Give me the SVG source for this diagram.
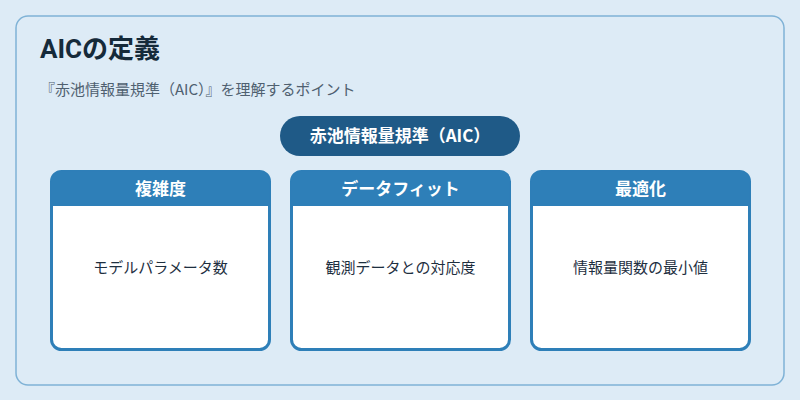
<svg xmlns="http://www.w3.org/2000/svg" width="800" height="400" viewBox="0 0 800 400">
<style>
text{font-family:"Noto Sans CJK JP","Noto Sans",sans-serif}
.card{fill:#fff;stroke:#2e7fb8;stroke-width:3}
.hd{fill:#2e7fb8}
.ht{fill:#fff;font-size:17px;font-weight:bold;text-anchor:middle}
.bt{fill:#1e2f3f;font-size:15px;text-anchor:middle}
</style>
<rect width="800" height="400" fill="#ddebf6"/>
<rect x="16" y="16" width="768" height="369" rx="12" fill="#ddebf6" stroke="#7fb2d6" stroke-width="1.5"/>
<text x="40" y="58" font-size="26" font-weight="bold" fill="#152a3a" style="font-family:Roboto,'Noto Sans CJK JP',sans-serif">AICの定義</text>
<text x="40" y="95" font-size="15" fill="#4f6070">『赤池情報量規準（AIC）』を理解するポイント</text>
<g id="pill">
<rect x="280" y="116" width="240" height="40" rx="20" fill="#1f5a87"/>
<text x="400" y="142" class="ht">赤池情報量規準（AIC）</text>
</g>
<g id="card1">
<rect x="51.5" y="171.5" width="218" height="178" rx="10" class="card"/>
<path d="M51.5 206 V181.5 a10 10 0 0 1 10 -10 H259.5 a10 10 0 0 1 10 10 V206 Z" class="hd"/>
<text x="160.5" y="195" class="ht">複雑度</text>
<text x="160.5" y="273" class="bt">モデルパラメータ数</text>
</g>
<g id="card2">
<rect x="291.5" y="171.5" width="218" height="178" rx="10" class="card"/>
<path d="M291.5 206 V181.5 a10 10 0 0 1 10 -10 H499.5 a10 10 0 0 1 10 10 V206 Z" class="hd"/>
<text x="400.5" y="195" class="ht">データフィット</text>
<text x="400.5" y="273" class="bt">観測データとの対応度</text>
</g>
<g id="card3">
<rect x="531.5" y="171.5" width="218" height="178" rx="10" class="card"/>
<path d="M531.5 206 V181.5 a10 10 0 0 1 10 -10 H739.5 a10 10 0 0 1 10 10 V206 Z" class="hd"/>
<text x="640.5" y="195" class="ht">最適化</text>
<text x="640.5" y="273" class="bt">情報量関数の最小値</text>
</g>
<g id="connectors"/>
</svg>
